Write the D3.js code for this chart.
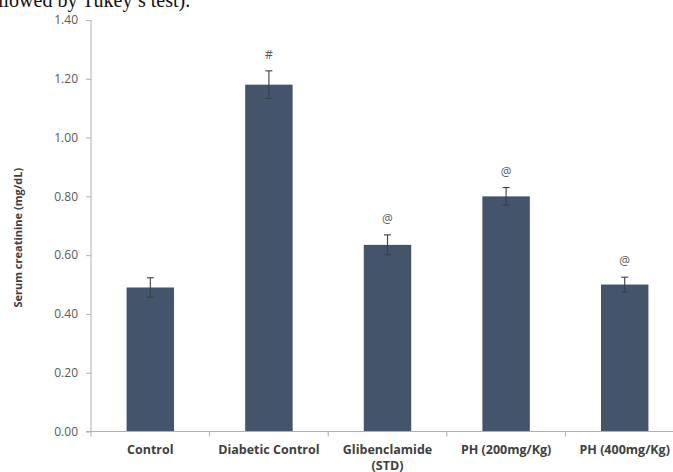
<!DOCTYPE html>
<html>
<head>
<meta charset="utf-8">
<script src="https://cdn.jsdelivr.net/npm/d3@7"></script>
<style>
  html, body { margin: 0; padding: 0; background: #fff; }
  svg { display: block; }
</style>
</head>
<body>
<svg id="chart" width="673" height="472"></svg>
<script>
// Serum creatinine by treatment group (mean ± SEM)
const groups = ["Control", "Diabetic Control", "Glibenclamide (STD)", "PH (200mg/Kg)", "PH (400mg/Kg)"];
const groupLines = [["Control"], ["Diabetic Control"], ["Glibenclamide", "(STD)"], ["PH (200mg/Kg)"], ["PH (400mg/Kg)"]];
const creatinine = [0.49, 1.18, 0.635, 0.80, 0.50];
const sem = [0.033, 0.047, 0.034, 0.03, 0.025];
const marks = ["", "#", "@", "@", "@"];
const yTicks = [0, 0.2, 0.4, 0.6, 0.8, 1.0, 1.2, 1.4];

const svg = d3.select("#chart");
const W = 673, H = 472;
const plotLeft = 91, plotTop = 20, plotBottom = 431.5;
const step = 118.6;

const x = d3.scaleBand()
  .domain(groups)
  .range([plotLeft, plotLeft + step * groups.length])
  .paddingInner(0.6)
  .paddingOuter(0.3);

const y = d3.scaleLinear().domain([0, 1.4]).range([plotBottom, plotTop]);

// caption line from the surrounding text
svg.append("text")
  .attr("x", -2).attr("y", 7)
  .attr("font-family", "Liberation Serif, DejaVu Serif, serif")
  .attr("font-size", 20)
  .attr("fill", "#111")
  .text("llowed by Tukey\u2019s test).");

// y axis
const yAxis = svg.append("g")
  .attr("transform", `translate(${plotLeft},0)`)
  .call(d3.axisLeft(y).tickValues(yTicks).tickFormat(d3.format(".2f")).tickSize(5).tickPadding(8));
yAxis.select(".domain").attr("stroke", "#b0b0b0").attr("d", `M0,${plotTop}V${plotBottom}`);
yAxis.selectAll(".tick line").attr("stroke", "#b0b0b0");
yAxis.selectAll(".tick text")
  .attr("font-family", "Open Sans, sans-serif")
  .attr("font-size", 12)
  .attr("fill", "#595959");

// y axis title
svg.append("text")
  .attr("transform", `translate(22,${(plotTop + plotBottom) / 2 + 12}) rotate(-90)`)
  .attr("text-anchor", "middle")
  .attr("font-family", "Open Sans, sans-serif")
  .attr("font-weight", "bold")
  .attr("font-size", 11)
  .attr("fill", "#404040")
  .text("Serum creatinine (mg/dL)");

// bars
svg.append("g").selectAll("rect")
  .data(groups)
  .join("rect")
  .attr("x", d => x(d))
  .attr("width", x.bandwidth())
  .attr("y", (d, i) => y(creatinine[i]))
  .attr("height", (d, i) => y(0) - y(creatinine[i]))
  .attr("fill", "#44546a");

// error bars
const eb = svg.append("g").attr("stroke", "#3b3f47").attr("stroke-width", 1.1);
groups.forEach((g, i) => {
  const cx = x(g) + x.bandwidth() / 2;
  const hi = y(creatinine[i] + sem[i]), lo = y(creatinine[i] - sem[i]);
  eb.append("line").attr("x1", cx).attr("x2", cx).attr("y1", hi).attr("y2", lo);
  eb.append("line").attr("x1", cx - 3.5).attr("x2", cx + 3.5).attr("y1", hi).attr("y2", hi);
  eb.append("line").attr("x1", cx - 3.5).attr("x2", cx + 3.5).attr("y1", lo).attr("y2", lo);
});

// significance marks
svg.append("g").selectAll("text")
  .data(groups)
  .join("text")
  .attr("x", d => x(d) + x.bandwidth() / 2)
  .attr("y", (d, i) => y(creatinine[i] + sem[i]) - 12)
  .attr("text-anchor", "middle")
  .attr("font-family", "Open Sans, sans-serif")
  .attr("font-size", 12)
  .attr("fill", "#595959")
  .text((d, i) => marks[i]);

// x axis line and category boundary ticks
const xa = svg.append("g").attr("stroke", "#b0b0b0").attr("stroke-width", 1);
xa.append("line").attr("x1", plotLeft - 5).attr("x2", W).attr("y1", plotBottom).attr("y2", plotBottom);
d3.range(groups.length + 1).forEach(k => {
  const bx = plotLeft + k * x.step();
  xa.append("line").attr("x1", bx).attr("x2", bx).attr("y1", plotBottom).attr("y2", plotBottom + 5);
});

// category labels
const lab = svg.append("g").selectAll("text")
  .data(groups)
  .join("text")
  .attr("x", d => x(d) + x.bandwidth() / 2)
  .attr("y", plotBottom + 22)
  .attr("text-anchor", "middle")
  .attr("font-family", "Open Sans, sans-serif")
  .attr("font-weight", "bold")
  .attr("font-size", 12.5)
  .attr("fill", "#404040");
lab.selectAll("tspan")
  .data((d, i) => groupLines[i])
  .join("tspan")
  .attr("x", function () { return this.parentNode.getAttribute("x"); })
  .attr("dy", (d, j) => j === 0 ? 0 : 16)
  .text(d => d);
</script>
</body>
</html>
